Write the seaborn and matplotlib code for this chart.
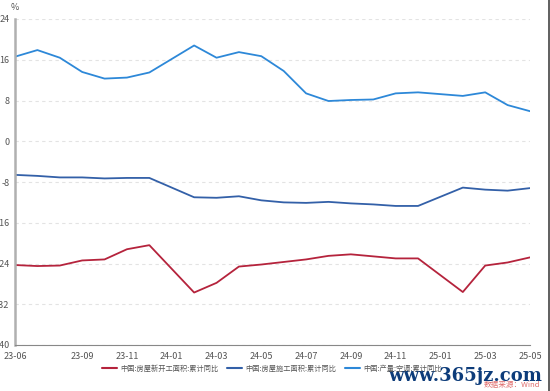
import matplotlib
matplotlib.use('Agg')
import matplotlib.pyplot as plt
import matplotlib.lines as mlines
import seaborn as sb
import numpy as np
import pandas as pd

# 月份（1月数据与2月合并，故缺1月）
luni = ['23-06', '23-07', '23-08', '23-09', '23-10', '23-11', '23-12',
        '24-02', '24-03', '24-04', '24-05', '24-06', '24-07', '24-08', '24-09', '24-10', '24-11', '24-12',
        '25-02', '25-03', '25-04', '25-05']

xin_kaigong = [-24.3, -24.5, -24.4, -23.4, -23.2, -21.2, -20.4,
               -29.7, -27.8, -24.6, -24.2, -23.7, -23.2, -22.5, -22.2, -22.6, -23.0, -23.0,
               -29.6, -24.4, -23.8, -22.8]
shigong = [-6.6, -6.8, -7.1, -7.1, -7.3, -7.2, -7.2,
           -11.0, -11.1, -10.8, -11.6, -12.0, -12.1, -11.9, -12.2, -12.4, -12.7, -12.7,
           -9.1, -9.5, -9.7, -9.2]
kongtiao = [16.6, 17.9, 16.4, 13.6, 12.3, 12.5, 13.5,
            18.8, 16.4, 17.5, 16.7, 13.8, 9.4, 7.9, 8.1, 8.2, 9.4, 9.6,
            8.9, 9.6, 7.1, 5.9]

serii = ['中国:房屋新开工面积:累计同比', '中国:房屋施工面积:累计同比', '中国:产量:空调:累计同比']
culori = ['#b5233c', '#3360a8', '#2d88d8']

etichete_x = ['23-06', '', '23-09', '23-11', '24-01', '24-03', '24-05', '24-07',
              '24-09', '24-11', '25-01', '25-03', '25-05']
valori_y = [24, 16, 8, 0, -8, -16, -24, -32, -40]


def luna_index(s):
    an, luna = s.split('-')
    return (int(an) - 23) * 12 + int(luna) - 6


df = pd.DataFrame({
    'x': [luna_index(m) for m in luni] * 3,
    'val': xin_kaigong + shigong + kongtiao,
    'serie': [serii[0]] * len(luni) + [serii[1]] * len(luni) + [serii[2]] * len(luni),
})

sb.set_style('white')
plt.rcParams['font.family'] = ['Noto Sans CJK SC', 'DejaVu Sans']

fig = plt.figure(figsize=(5.5, 3.91), dpi=100)
ax = fig.add_axes([15 / 550, 1 - 345 / 391, 515 / 550, 326 / 391])

sb.lineplot(data=df, x='x', y='val', hue='serie', hue_order=serii, palette=culori,
            linewidth=1.3, legend=False, ax=ax)

ax.set_xlim(0, 23)
ax.set_ylim(-40, 24)
ax.set_yticks(valori_y)
ax.set_yticklabels([str(v) for v in valori_y])
ax.set_xticks([luna_index(e) if e else 1 for e in etichete_x])
ax.set_xticklabels(etichete_x)
ax.set_xlabel('')
ax.set_ylabel('')

ax.grid(axis='y', color='#e3e3e3', linestyle=(0, (3, 3)), linewidth=0.8)
ax.grid(axis='x', visible=False)
for s in ['top', 'right']:
    ax.spines[s].set_visible(False)
ax.spines['left'].set_color('#b0b0b0')
ax.spines['left'].set_linewidth(1.8)
ax.spines['bottom'].set_color('#888888')
ax.spines['bottom'].set_linewidth(0.8)
ax.tick_params(axis='both', labelsize=6.5, colors='#555555', length=4, width=0.8, pad=1)
ax.tick_params(axis='y', length=3)
ax.set_axisbelow(True)

fig.text(15 / 550, 1 - 8 / 391, '%', fontsize=6.5, color='#555555', ha='center', va='center')

handles = [mlines.Line2D([], [], color=c, linewidth=1.5) for c in culori]
fig.legend(handles, serii, loc='center', bbox_to_anchor=(272 / 550, 1 - 369 / 391), ncol=3,
           fontsize=5.2, frameon=False, handlelength=2.0, handletextpad=0.5, columnspacing=1.2,
           labelcolor='#555555')

# 右侧边框
fig.add_artist(mlines.Line2D([548.5 / 550, 548.5 / 550], [0, 1], color='#444444', linewidth=1.2))

# 水印
fig.text(542 / 550, 1 - 376 / 391, 'www.365jz.com', fontsize=13, color='#0d3c7a', ha='right',
         va='center', family='DejaVu Serif', fontweight='bold')
fig.text(540 / 550, 1 - 385 / 391, '数据来源：Wind', fontsize=5.5, color='#d84a4a', ha='right',
         va='center', alpha=0.8)

fig.savefig('out.png', dpi=100)
